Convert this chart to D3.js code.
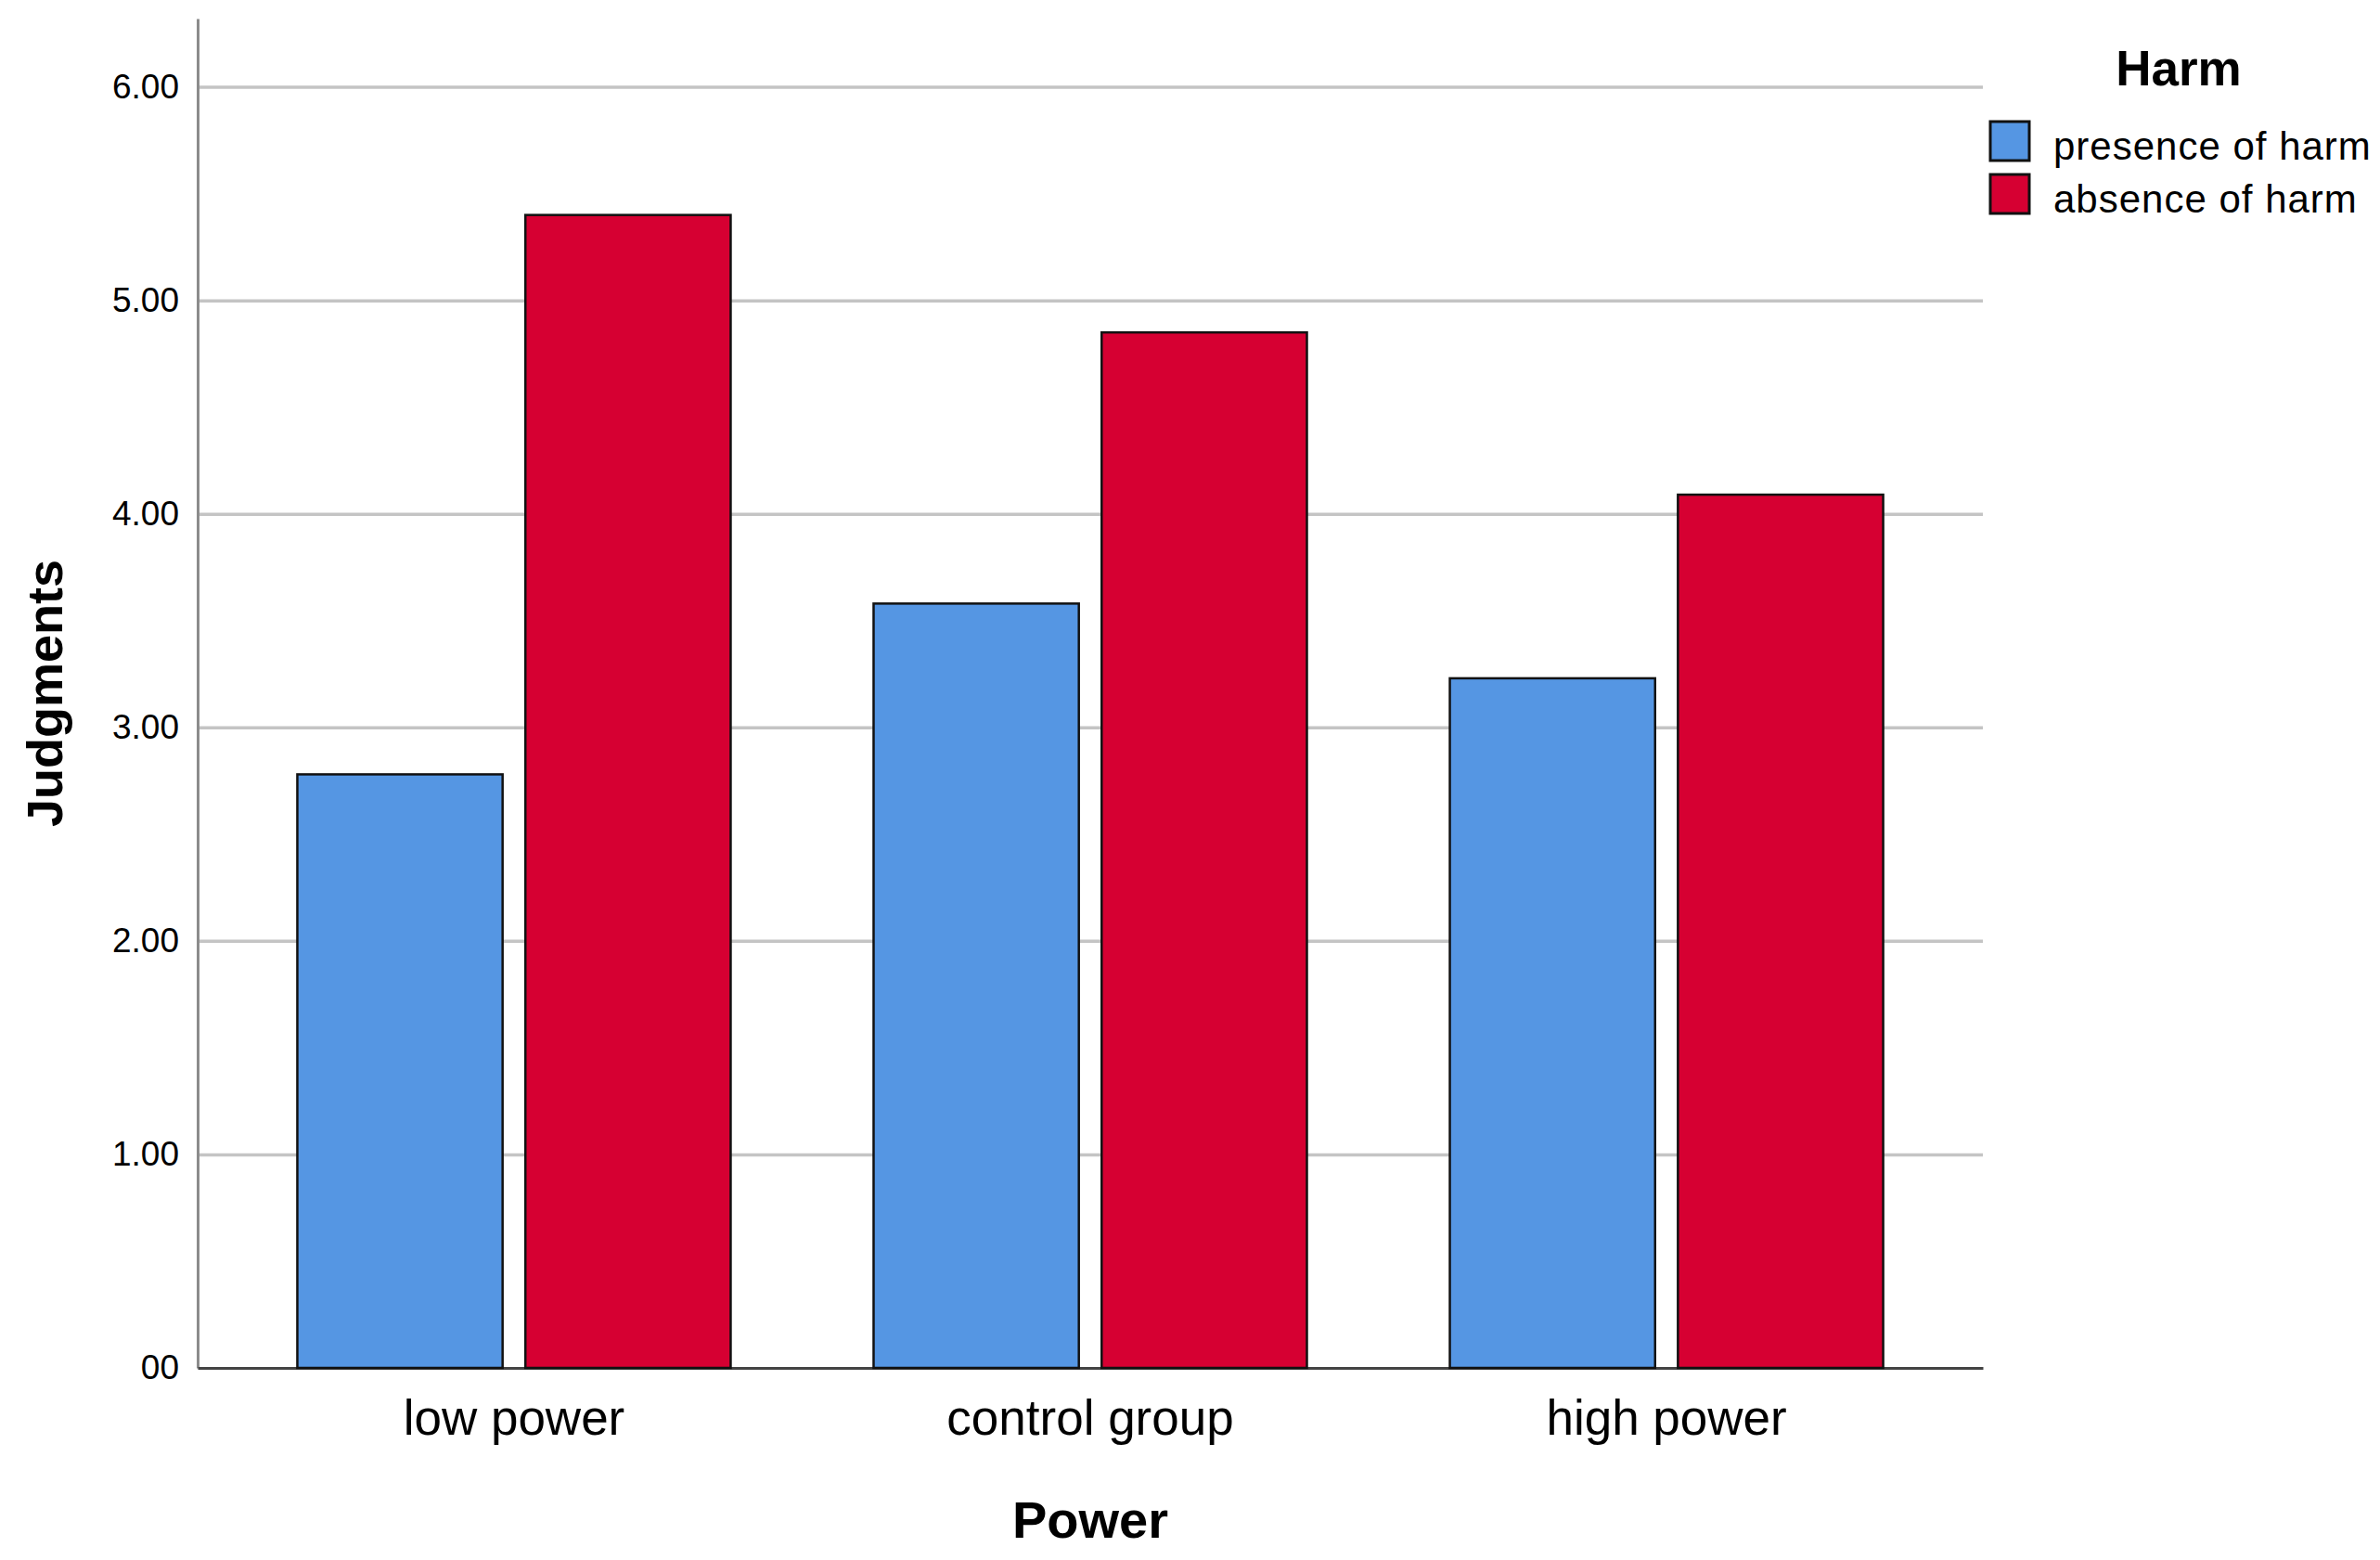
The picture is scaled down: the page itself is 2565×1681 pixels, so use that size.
<!DOCTYPE html>
<html>
<head>
<meta charset="utf-8">
<script src="https://d3js.org/d3.v7.min.js"></script>
<style>
    body { margin: 0; background: #fff; }
    text { font-family: "Liberation Sans", Arial, sans-serif; fill: #000; }
</style>
</head>
<body>
<script>
// chart data
var categories = ["low power", "control group", "high power"];
var seriesNames = ["presence of harm", "absence of harm"];
var presenceValues = [2.78, 3.58, 3.23];
var absenceValues = [5.40, 4.85, 4.09];
var tickValues = [0, 1, 2, 3, 4, 5, 6];
var tickLabels = ["00", "1.00", "2.00", "3.00", "4.00", "5.00", "6.00"];
var colors = ["#5596e3", "#d60032"];

var margin = {
    top: 20,
    right: 428,
    bottom: 207,
    left: 213
};

var w = 2565 - margin.left - margin.right,
    h = 1681 - margin.top - margin.bottom;

// one row per category
var tempdata = categories.map(function (c, i) {
    return {
        category: c,
        values: [
            { series: seriesNames[0], value: presenceValues[i] },
            { series: seriesNames[1], value: absenceValues[i] }
        ]
    };
});

var svg = d3.select("body").append("svg")
    .attr("width", w + margin.left + margin.right)
    .attr("height", h + margin.top + margin.bottom)
    .append("g")
    .attr("transform", "translate(" + margin.left + "," + margin.top + ")");

var xScale = d3.scaleBand()
    .domain(categories)
    .range([0, w])
    .paddingInner(0.248)
    .paddingOuter(0.173);

var xInner = d3.scaleBand()
    .domain(seriesNames)
    .range([0, xScale.bandwidth()])
    .paddingInner(0.1);

var yScale = d3.scaleLinear()
    .domain([0, 6.32])
    .range([h, 0]);

var color = d3.scaleOrdinal().domain(seriesNames).range(colors);

// gridlines
var grid = svg.append("g")
    .call(d3.axisLeft(yScale).tickValues(tickValues.slice(1)).tickSize(-w).tickFormat(""));
grid.select(".domain").remove();
grid.selectAll("line").attr("stroke", "#c4c4c4").attr("stroke-width", 3.5);

// y axis
var yAxis_g = svg.append("g")
    .call(d3.axisLeft(yScale)
        .tickValues(tickValues)
        .tickSize(0)
        .tickSizeOuter(0)
        .tickPadding(20)
        .tickFormat(function (d, i) { return tickLabels[i]; }));
yAxis_g.select(".domain").attr("stroke", "#8c8c8c").attr("stroke-width", 3);
yAxis_g.selectAll("text")
    .style("font-size", "37px")
    .attr("fill", "#000");

// x axis
var xAxis_g = svg.append("g")
    .attr("transform", "translate(0," + h + ")")
    .call(d3.axisBottom(xScale).tickSize(0).tickSizeOuter(0).tickPadding(34));
xAxis_g.select(".domain").attr("stroke", "#444").attr("stroke-width", 3);
xAxis_g.selectAll("text")
    .style("font-size", "53px")
    .attr("fill", "#000");

// bars
svg.selectAll(".group")
    .data(tempdata)
    .enter()
    .append("g")
    .attr("class", "group")
    .attr("transform", function (d) { return "translate(" + xScale(d.category) + ",0)"; })
    .selectAll("rect")
    .data(function (d) { return d.values; })
    .enter()
    .append("rect")
    .attr("x", function (d) { return xInner(d.series); })
    .attr("width", xInner.bandwidth())
    .attr("y", function (d) { return yScale(d.value); })
    .attr("height", function (d) { return h - yScale(d.value); })
    .attr("fill", function (d) { return color(d.series); })
    .attr("stroke", "#111")
    .attr("stroke-width", 2.5);

// axis titles
svg.append("text")
    .attr("transform", "rotate(-90)")
    .attr("x", -h / 2)
    .attr("y", -146)
    .attr("text-anchor", "middle")
    .style("font-size", "54px")
    .style("font-weight", "bold")
    .text("Judgments");

svg.append("text")
    .attr("x", w / 2)
    .attr("y", h + 183)
    .attr("text-anchor", "middle")
    .style("font-size", "56px")
    .style("font-weight", "bold")
    .text("Power");

// legend
var legend = svg.append("g")
    .attr("transform", "translate(" + (2145 - margin.left) + "," + (0 - margin.top) + ")");

legend.append("text")
    .attr("x", 203)
    .attr("y", 92)
    .attr("text-anchor", "middle")
    .style("font-size", "53px")
    .style("font-weight", "bold")
    .text("Harm");

var items = legend.selectAll(".item")
    .data(seriesNames)
    .enter()
    .append("g")
    .attr("class", "item")
    .attr("transform", function (d, i) { return "translate(0," + (131 + i * 57) + ")"; });

items.append("rect")
    .attr("width", 42)
    .attr("height", 42)
    .attr("fill", function (d) { return color(d); })
    .attr("stroke", "#111")
    .attr("stroke-width", 3);

items.append("text")
    .attr("x", 68)
    .attr("y", 41)
    .style("font-size", "42px")
    .style("letter-spacing", "1px")
    .text(function (d) { return d; });
</script>
</body>
</html>
